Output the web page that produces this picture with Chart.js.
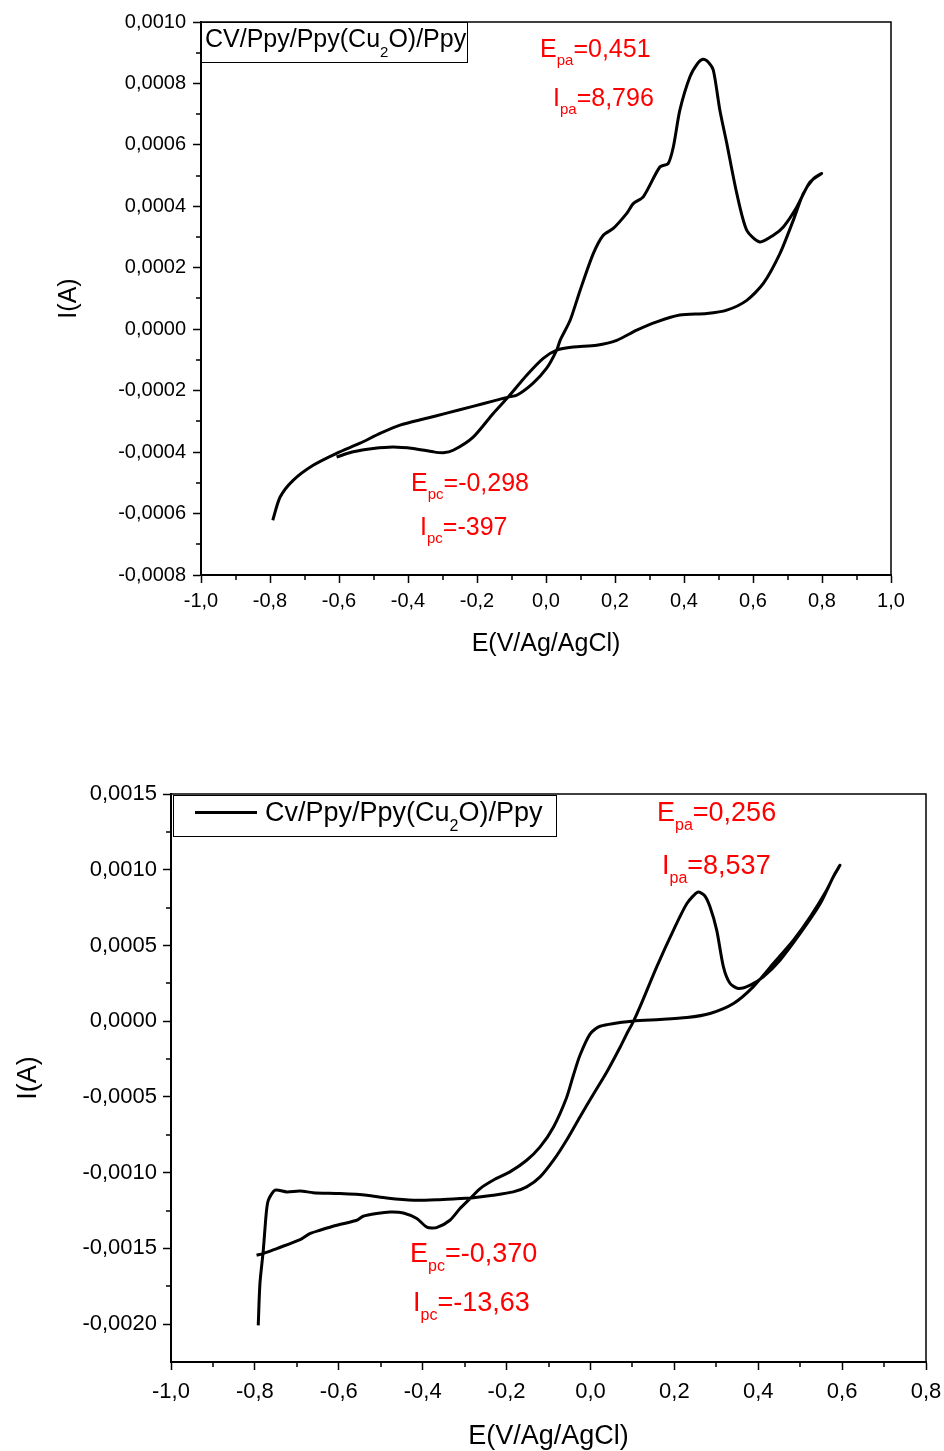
<!DOCTYPE html>
<html><head><meta charset="utf-8">
<script src="https://cdn.jsdelivr.net/npm/chart.js@4"></script>
<style>
html,body{margin:0;padding:0;background:#fff;}
#w{position:relative;width:944px;height:1451px;overflow:hidden;font-family:"Liberation Sans",Arial,sans-serif;}
.cv{position:absolute;left:0;}
.lbl{position:absolute;white-space:nowrap;line-height:1;}
.red{color:#ff0000;}
.s1{font-size:15px;vertical-align:-8px;line-height:1;}
.s2{font-size:16px;vertical-align:-9px;line-height:1;}
.s3{font-size:15px;vertical-align:-10px;line-height:1;}
.s4{font-size:16px;vertical-align:-10px;line-height:1;}
.box{position:absolute;border:1px solid #000;background:#fff;box-sizing:border-box;}
.ls{position:absolute;height:3px;background:#000;}
</style>
</head><body>
<div id="w">
  <canvas id="c1" class="cv" width="944" height="700" style="top:0;width:944px;height:700px"></canvas>
  <canvas id="c2" class="cv" width="944" height="711" style="top:740px;width:944px;height:711px"></canvas>

  <div class="box" style="left:201px;top:22px;width:267px;height:41px"></div>
  <div class="lbl" style="left:205px;top:26px;font-size:25px">CV/Ppy/Ppy(Cu<span class="s3">2</span>O)/Ppy</div>
  <div class="lbl red" style="left:540px;top:36px;font-size:25px">E<span class="s1">pa</span>=0,451</div>
  <div class="lbl red" style="left:553px;top:85px;font-size:25px">I<span class="s1">pa</span>=8,796</div>
  <div class="lbl red" style="left:411px;top:470px;font-size:25px">E<span class="s1">pc</span>=-0,298</div>
  <div class="lbl red" style="left:420px;top:514px;font-size:25px">I<span class="s1">pc</span>=-397</div>

  <div class="box" style="left:173px;top:795px;width:384px;height:42px"></div>
  <div class="ls" style="left:195px;top:811px;width:62px"></div>
  <div class="lbl" style="left:265px;top:799px;font-size:27px">Cv/Ppy/Ppy(Cu<span class="s4">2</span>O)/Ppy</div>
  <div class="lbl red" style="left:657px;top:799px;font-size:27px">E<span class="s2">pa</span>=0,256</div>
  <div class="lbl red" style="left:662px;top:852px;font-size:27px">I<span class="s2">pa</span>=8,537</div>
  <div class="lbl red" style="left:410px;top:1240px;font-size:27px">E<span class="s2">pc</span>=-0,370</div>
  <div class="lbl red" style="left:413px;top:1289px;font-size:27px">I<span class="s2">pc</span>=-13,63</div>
</div>
<script>
// ---------- Data (potential in V, current in mA) ----------
const topPotential = [-0.792,-0.771,-0.733,-0.675,-0.607,-0.539,-0.481,-0.423,-0.346,-0.288,-0.212,-0.154,-0.110,-0.085,-0.038,0.002,0.031,0.041,0.070,0.099,0.137,0.166,0.195,0.234,0.253,0.282,0.330,0.354,0.369,0.388,0.417,0.440,0.455,0.470,0.485,0.504,0.524,0.553,0.582,0.620,0.659,0.688,0.727,0.765,0.799,
  0.775,0.746,0.717,0.678,0.630,0.582,0.524,0.466,0.388,0.321,0.263,0.205,0.147,0.079,0.031,-0.008,-0.056,-0.109,-0.153,-0.211,-0.269,-0.298,-0.327,-0.385,-0.443,-0.501,-0.559,-0.607];
const topCurrent = [-0.622,-0.547,-0.492,-0.443,-0.404,-0.371,-0.339,-0.312,-0.290,-0.273,-0.251,-0.234,-0.221,-0.215,-0.176,-0.127,-0.068,-0.036,0.029,0.127,0.246,0.306,0.328,0.377,0.409,0.431,0.528,0.539,0.593,0.713,0.821,0.866,0.879,0.870,0.843,0.713,0.605,0.442,0.322,0.284,0.306,0.333,0.398,0.479,0.507,
  0.490,0.442,0.355,0.246,0.149,0.094,0.062,0.051,0.046,0.024,-0.003,-0.036,-0.052,-0.058,-0.068,-0.095,-0.150,-0.220,-0.274,-0.351,-0.394,-0.402,-0.399,-0.388,-0.383,-0.388,-0.399,-0.416];

const bottomPotential = [-0.792,-0.788,-0.780,-0.773,-0.768,-0.752,-0.724,-0.692,-0.661,-0.597,-0.533,-0.486,-0.422,-0.359,-0.311,-0.279,-0.232,-0.184,-0.152,-0.120,-0.088,-0.057,-0.025,0.007,0.039,0.071,0.087,0.102,0.118,0.158,0.198,0.230,0.256,0.272,0.285,0.301,0.317,0.333,0.353,0.381,0.412,0.452,0.500,0.548,0.579,0.595,
  0.583,0.563,0.524,0.484,0.436,0.388,0.341,0.285,0.230,0.166,0.102,0.023,-0.001,-0.025,-0.041,-0.057,-0.088,-0.120,-0.152,-0.192,-0.232,-0.263,-0.287,-0.311,-0.335,-0.367,-0.390,-0.414,-0.446,-0.478,-0.510,-0.542,-0.557,-0.605,-0.645,-0.669,-0.692,-0.748,-0.780,-0.796];
const bottomCurrent = [-2.008,-1.733,-1.513,-1.270,-1.182,-1.116,-1.127,-1.121,-1.132,-1.138,-1.149,-1.167,-1.182,-1.178,-1.171,-1.165,-1.149,-1.127,-1.094,-1.028,-0.918,-0.786,-0.632,-0.482,-0.335,-0.170,-0.081,-0.004,0.094,0.359,0.601,0.777,0.852,0.830,0.755,0.601,0.359,0.249,0.216,0.238,0.293,0.403,0.579,0.777,0.953,1.030,
  0.975,0.865,0.689,0.535,0.381,0.227,0.117,0.051,0.024,0.011,0.002,-0.033,-0.085,-0.225,-0.360,-0.505,-0.698,-0.830,-0.918,-0.995,-1.050,-1.105,-1.171,-1.237,-1.314,-1.363,-1.359,-1.303,-1.266,-1.260,-1.270,-1.288,-1.314,-1.347,-1.380,-1.402,-1.442,-1.501,-1.534,-1.545];

// ---------- Tick values ----------
const topXTicks = [-1.0,-0.8,-0.6,-0.4,-0.2,0.0,0.2,0.4,0.6,0.8,1.0];
const topYTicks = [-0.0008,-0.0006,-0.0004,-0.0002,0.0,0.0002,0.0004,0.0006,0.0008,0.0010];
const bottomXTicks = [-1.0,-0.8,-0.6,-0.4,-0.2,0.0,0.2,0.4,0.6,0.8];
const bottomYTicks = [-0.0020,-0.0015,-0.0010,-0.0005,0.0,0.0005,0.0010,0.0015];

const FONT = '"Liberation Sans", Arial, sans-serif';
function fmt(v, d){ if (Math.abs(v) < 1e-12) v = 0; return v.toFixed(d).replace('.', ','); }
function mids(arr){ const r=[]; for(let i=0;i<arr.length-1;i++) r.push((arr[i]+arr[i+1])/2); return r; }

const framePlugin = {
  id: 'frame',
  afterDraw(chart, args, opts){
    const {ctx, chartArea:a, scales:{x,y}} = chart;
    ctx.save();
    ctx.strokeStyle = '#000';
    ctx.lineWidth = 1.5;
    ctx.beginPath();
    ctx.moveTo(a.left, a.top); ctx.lineTo(a.right, a.top); ctx.lineTo(a.right, a.bottom);
    ctx.stroke();
    ctx.beginPath();
    opts.xMinor.forEach(v => { const p = Math.round(x.getPixelForValue(v)); ctx.moveTo(p, a.bottom); ctx.lineTo(p, a.bottom + 5); });
    opts.yMinor.forEach(v => { const p = Math.round(y.getPixelForValue(v)); if (p < a.bottom - 1) { ctx.moveTo(a.left, p); ctx.lineTo(a.left - 5, p); } });
    ctx.stroke();
    ctx.restore();
  }
};

function makeChart(id, cfg){
  const pts = cfg.E.map((e,i) => ({x: e, y: cfg.I[i] / 1000}));
  return new Chart(document.getElementById(id), {
    type: 'scatter',
    data: { datasets: [{ data: pts, showLine: true, borderColor: '#000', borderWidth: 3, pointRadius: 0, tension: 0.25, fill: false }] },
    options: {
      responsive: false, animation: false,
      layout: { padding: cfg.pad },
      plugins: { legend: { display: false }, tooltip: { enabled: false },
        frame: { xMinor: mids(cfg.xt), yMinor: mids(cfg.yt) } },
      scales: {
        x: {
          type: 'linear', min: cfg.xmin, max: cfg.xmax,
          afterBuildTicks: s => { s.ticks = cfg.xt.map(v => ({value: v})); },
          afterFit: s => { s.height = cfg.xh; s.paddingLeft = 0; s.paddingRight = 0; },
          ticks: { callback: v => fmt(v, 1), font: { size: cfg.tf, family: FONT }, color: '#000', padding: cfg.xpad, maxRotation: 0, autoSkip: false },
          grid: { drawOnChartArea: false, tickLength: 8, tickWidth: 1.5, tickColor: '#000' },
          border: { color: '#000', width: 2 },
          title: { display: true, text: 'E(V/Ag/AgCl)', font: { size: cfg.titf, family: FONT, lineHeight: 1.1 }, color: '#000', padding: { top: 0, bottom: cfg.xtp } }
        },
        y: {
          type: 'linear', min: cfg.ymin, max: cfg.ymax,
          afterBuildTicks: s => { s.ticks = cfg.yt.map(v => ({value: v})); },
          afterFit: s => { s.width = cfg.yw; s.paddingTop = 0; s.paddingBottom = 0; },
          ticks: { callback: v => fmt(v, 4), font: { size: cfg.tf, family: FONT }, color: '#000', padding: cfg.ypad, autoSkip: false },
          grid: { drawOnChartArea: false, tickLength: 8, tickWidth: 1.5, tickColor: '#000' },
          border: { color: '#000', width: 2 },
          title: { display: true, text: 'I(A)', font: { size: cfg.titf, family: FONT, lineHeight: 1.1 }, color: '#000', padding: { top: cfg.ytp, bottom: 0 } }
        }
      }
    },
    plugins: [framePlugin]
  });
}

makeChart('c1', {
  E: topPotential, I: topCurrent, xt: topXTicks, yt: topYTicks,
  xmin: -1, xmax: 1, ymin: -0.0008, ymax: 0.0010,
  pad: { left: 0, top: 22, right: 53, bottom: 0 },
  xh: 125, yw: 201, tf: 20, titf: 25, xpad: 6, ypad: 7, xtp: 42, ytp: 55
});
makeChart('c2', {
  E: bottomPotential, I: bottomCurrent, xt: bottomXTicks, yt: bottomYTicks,
  xmin: -1, xmax: 0.8, ymin: -0.00225, ymax: 0.0015,
  pad: { left: 0, top: 54, right: 18, bottom: 0 },
  xh: 89, yw: 171, tf: 22, titf: 27, xpad: 9, ypad: 6, xtp: 0, ytp: 14
});
</script>
</body></html>
